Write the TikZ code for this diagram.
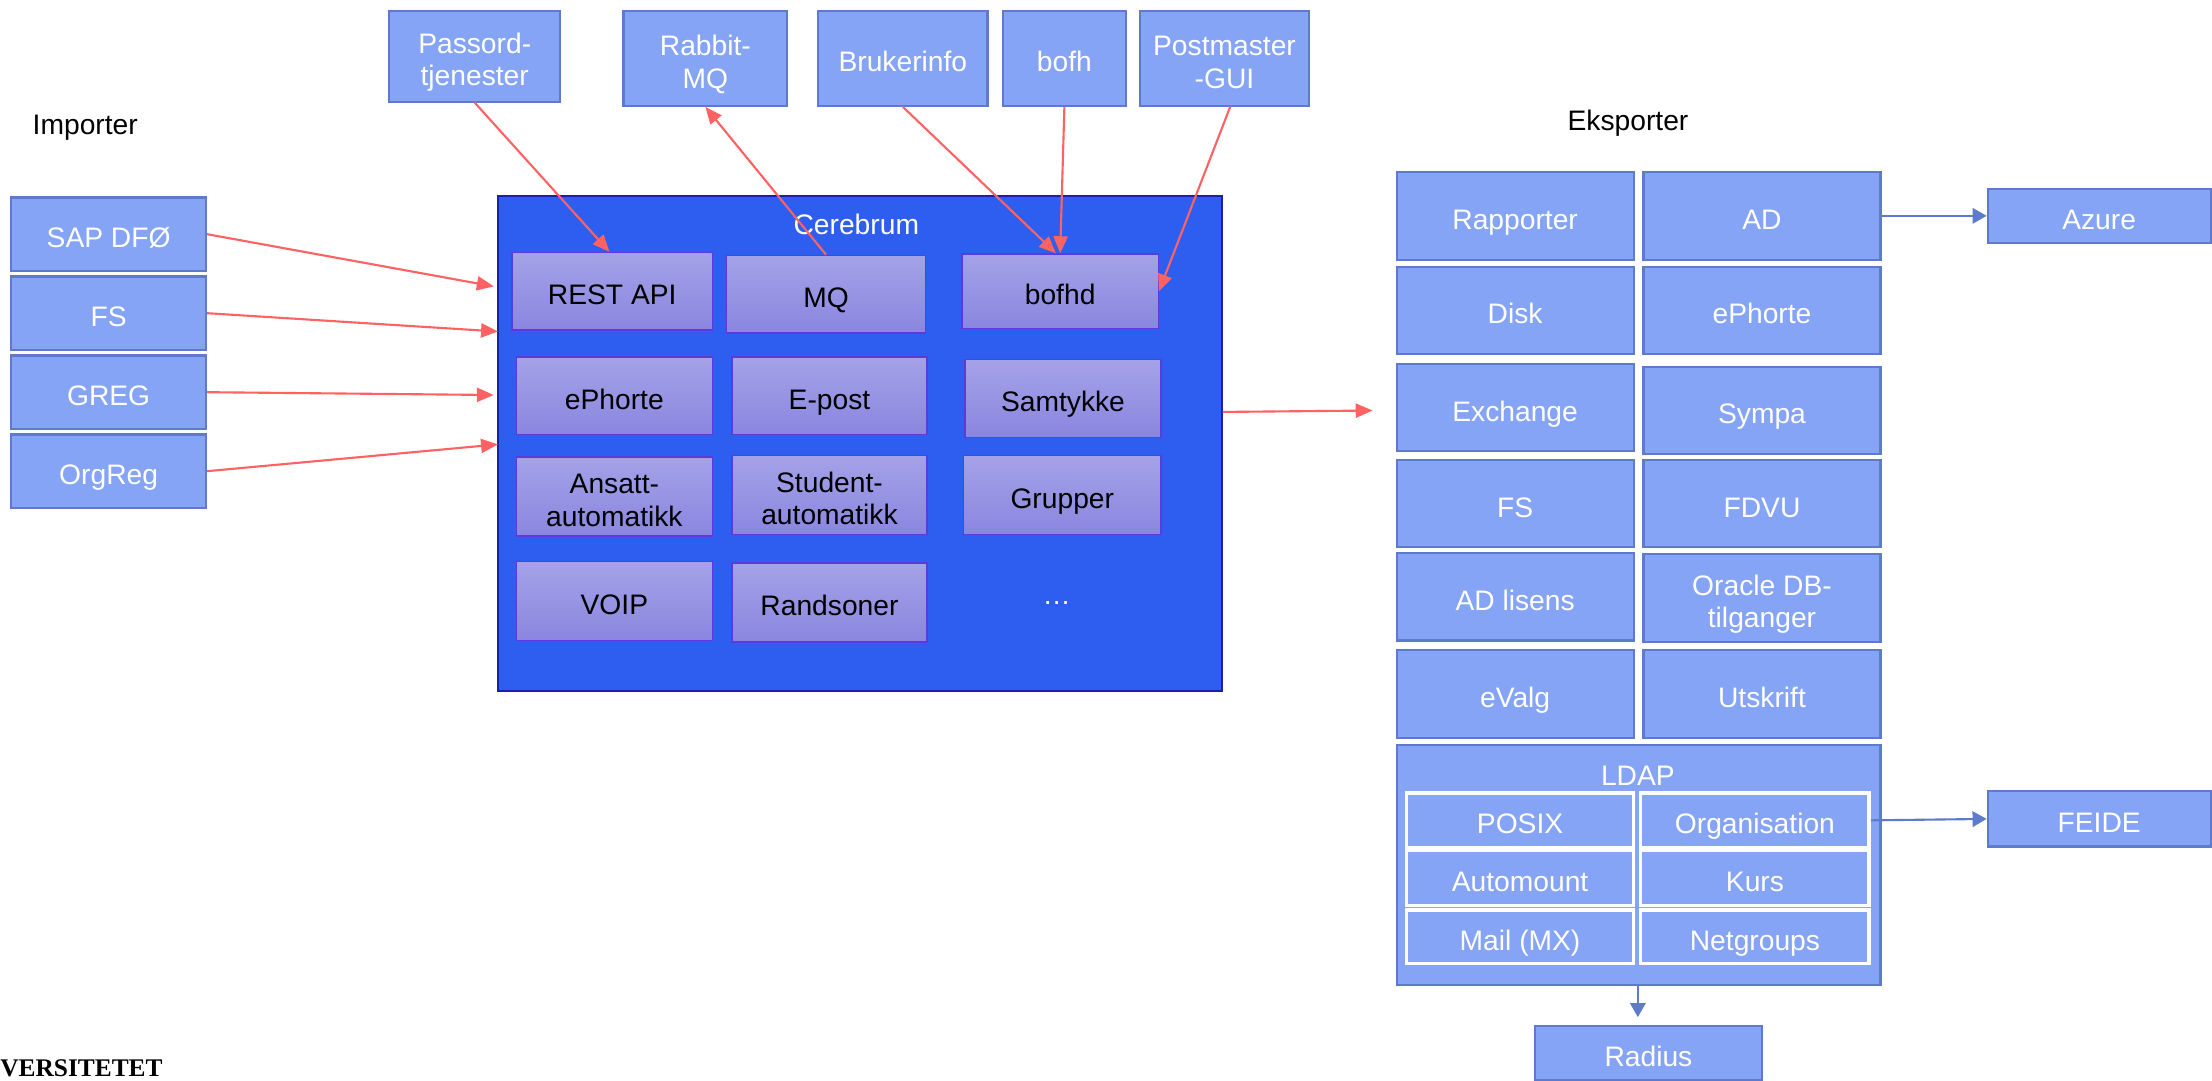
\documentclass[tikz,border=0pt]{standalone}
\usepackage{fontspec}
\setmainfont{Liberation Sans}
\newfontfamily\serifbold{Liberation Serif}
\usetikzlibrary{arrows.meta}
\definecolor{lb}{HTML}{86A4F5}
\definecolor{lbd}{HTML}{5E7ACB}
\definecolor{cb}{HTML}{2E5EEF}
\definecolor{cbd}{HTML}{1E1EA8}
\definecolor{ilt}{HTML}{A4A2E7}
\definecolor{ilb}{HTML}{8A86E0}
\definecolor{ibd}{HTML}{5B3CDB}
\definecolor{rd}{HTML}{FF6262}
\newcommand{\fsz}{\fontsize{20}{23}\selectfont}
\newcommand{\twol}[2]{\begin{tabular}[b]{@{}c@{}}#1\\#2\end{tabular}}
\tikzset{
  sz/.style 2 args={minimum width=#1pt, minimum height=#2pt},
  txt/.style={inner sep=0pt, font=\fsz, text height=21pt, text depth=2pt},
  tw/.style={text height=43pt, text depth=1.2pt},
  lbox/.style={txt, draw=lbd, fill=lb, line width=1.5pt, text=white},
  ibox/.style={txt, draw=ibd, top color=ilt, bottom color=ilb, line width=1pt, text=black},
  ldbox/.style={txt, draw=white, fill=lb, line width=2.5pt, text=white},
  bigbox/.style={draw=cbd, fill=cb, line width=1.5pt, inner sep=0pt},
  lbl/.style={txt},
  ra/.style={draw=rd, line width=1.5pt, -{Triangle[length=12pt,width=10pt]}},
  ba/.style={draw=lbd, line width=1.5pt, -{Triangle[length=10pt,width=11pt]}}
}
\begin{document}
\begin{tikzpicture}[x=1pt,y=-1pt]
\useasboundingbox (0,0) rectangle (1568,766);
% labels
\node[lbl, anchor=west] (imp) at (23,86) {Importer};
\node[lbl, anchor=west] (eks) at (1111,83) {Eksporter};
% import sources
\node[lbox, sz={138}{52}] (sap) at (77,166) {SAP DFØ};
\node[lbox, sz={138}{52}] (fs) at (77,222) {FS};
\node[lbox, sz={138}{52}] (greg) at (77,278) {GREG};
\node[lbox, sz={138}{52}] (org) at (77,334) {OrgReg};
% top boxes
\node[lbox, tw, sz={121}{64}] (pass) at (336.5,40) {\twol{Passord-}{tjenester}};
\node[lbox, tw, sz={116}{67}] (rabbit) at (500,41.5) {\twol{Rabbit-}{MQ}};
\node[lbox, sz={120}{67}] (bruk) at (640,41.5) {Brukerinfo};
\node[lbox, sz={87}{67}] (bofh) at (754.5,41.5) {bofh};
\node[lbox, tw, sz={120}{67}] (post) at (868,41.5) {\twol{Postmaster}{-GUI}};
% Cerebrum
\node[bigbox, sz={513}{351}] (cereb) at (609.5,314.5) {};
\node[lbl, text=white] (cerebl) at (607,157) {Cerebrum};
\node[ibox, sz={142}{55}] (rest) at (434,206.5) {REST API};
\node[ibox, sz={141}{55}] (mq) at (585.5,208.5) {MQ};
\node[ibox, sz={139}{53}] (bofhd) at (751.5,206.5) {bofhd};
\node[ibox, sz={139}{55}] (ephi) at (435.5,280.5) {ePhorte};
\node[ibox, sz={138}{55}] (epost) at (588,280.5) {E-post};
\node[ibox, sz={139}{55}] (samt) at (753.5,282.5) {Samtykke};
\node[ibox, tw, sz={139}{56}] (ansatt) at (435.5,352) {\twol{Ansatt-}{automatikk}};
\node[ibox, tw, sz={138}{56}] (student) at (588,351) {\twol{Student-}{automatikk}};
\node[ibox, sz={140}{56}] (grupper) at (753,351) {Grupper};
\node[ibox, sz={139}{56}] (voip) at (435.5,426) {VOIP};
\node[ibox, sz={138}{56}] (rands) at (588,427) {Randsoner};
\node[lbl, text=white] (dots) at (749,419) {…};
% export grid
\node[lbox, sz={168}{62}] (rapp) at (1074,153) {Rapporter};
\node[lbox, sz={168}{62}] (ad) at (1249,153) {AD};
\node[lbox, sz={168}{62}] (disk) at (1074,220) {Disk};
\node[lbox, sz={168}{62}] (ephe) at (1249,220) {ePhorte};
\node[lbox, sz={168}{62}] (exch) at (1074,289) {Exchange};
\node[lbox, sz={168}{62}] (sympa) at (1249,291) {Sympa};
\node[lbox, sz={168}{62}] (fse) at (1074,357) {FS};
\node[lbox, sz={168}{62}] (fdvu) at (1249,357) {FDVU};
\node[lbox, sz={168}{62}] (adl) at (1074,423) {AD lisens};
\node[lbox, tw, sz={168}{62}] (oracle) at (1249,424) {\twol{Oracle DB-}{tilganger}};
\node[lbox, sz={168}{62}] (evalg) at (1074,492) {eValg};
\node[lbox, sz={168}{62}] (utskr) at (1249,492) {Utskrift};
\node[lbox, sz={158}{38}] (azure) at (1488,153) {Azure};
% LDAP
\node[lbox, sz={343}{170}] (ldap) at (1161.5,613) {};
\node[lbl, text=white] (ldapl) at (1161,547) {LDAP};
\node[ldbox, sz={161}{39}] (posix) at (1077.5,581.5) {POSIX};
\node[ldbox, sz={162}{39}] (orgn) at (1244,581.5) {Organisation};
\node[ldbox, sz={161}{39}] (automount) at (1077.5,622.5) {Automount};
\node[ldbox, sz={162}{39}] (kurs) at (1244,622.5) {Kurs};
\node[ldbox, sz={161}{38}] (mail) at (1077.5,664) {Mail (MX)};
\node[ldbox, sz={162}{38}] (netg) at (1244,664) {Netgroups};
\node[lbox, sz={158}{39}] (feide) at (1488,580.5) {FEIDE};
\node[lbox, sz={161}{38}] (radius) at (1168.5,746.5) {Radius};
% footer text
\node[inner sep=0pt, anchor=base west, font=\serifbold\bfseries\fontsize{18}{20}\selectfont] (uio) at (0,763) {VERSITETET};
% red arrows
\coordinate (c1) at (350,203);
\coordinate (c2) at (353,235);
\coordinate (c3) at (350,280);
\coordinate (c4) at (353,315);
\draw[ra] (sap.east) -- (c1);
\draw[ra] (fs.east) -- (c2);
\draw[ra] (greg.east) -- (c3);
\draw[ra] (org.east) -- (c4);
\draw[ra] (pass.south) -- ([xshift=-2pt]rest.north);
\draw[ra] (mq.north) -- (rabbit.south);
\draw[ra] (bruk.south) -- ([xshift=-3pt]bofhd.north);
\draw[ra] (bofh.south) -- (bofhd.north);
\draw[ra] ([xshift=4pt]post.south) -- (bofhd.east);
\coordinate (expt) at (973,291);
\draw[ra] (cereb.east |- 0,292) -- (expt);
% blue arrows
\draw[ba] (ad.east) -- (azure.west);
\draw[ba] (orgn.east) -- (feide.west);
\coordinate (radtop) at (1161,721);
\draw[ba] (ldap.south -| radtop) -- (radtop);
\end{tikzpicture}
\end{document}
